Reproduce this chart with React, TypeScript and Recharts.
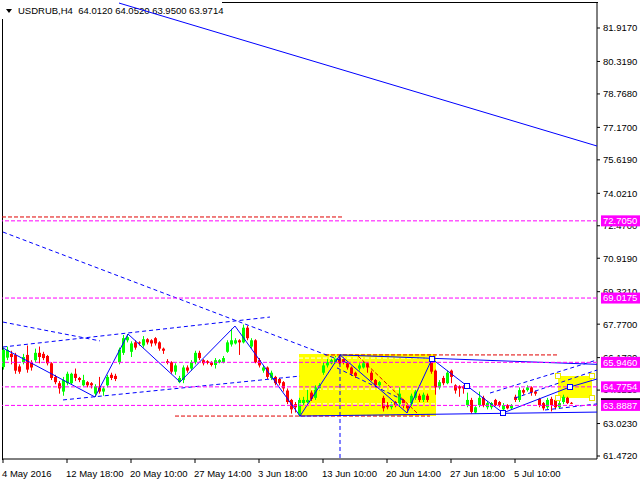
import React from 'react';
import { ComposedChart, Bar, XAxis, YAxis, ReferenceLine, ReferenceArea, ReferenceDot } from 'recharts';

const SYMBOL = 'USDRUB,H4';
const LAST_BAR = ['64.0120', '64.0520', '63.9500', '63.9714'];

const X_TICKS = [0, 16, 32, 48, 64, 80, 96, 112, 128];
const X_LABELS = ['4 May 2016', '12 May 18:00', '20 May 10:00', '27 May 14:00', '3 Jun 18:00', '13 Jun 10:00', '20 Jun 14:00', '27 Jun 18:00', '5 Jul 10:00'];
const Y_TICKS = [81.917, 80.319, 78.768, 77.17, 75.619, 74.021, 72.47, 70.919, 69.321, 67.77, 66.172, 64.621, 63.023, 61.472];
const X_DOMAIN: [number, number] = [-0.25, 148.5];
const Y_DOMAIN: [number, number] = [61.3287, 83.1597];

// [open, high, low, close] per H4 bar
const OHLC: number[][] = [
  [65.72, 66.65, 65.60, 66.54], [66.17, 66.70, 66.05, 66.54], [66.35, 66.50, 65.85, 66.20], [66.30, 66.40, 65.40, 65.55],
  [65.75, 65.85, 65.40, 65.50], [65.95, 66.35, 65.85, 66.20], [66.30, 66.75, 65.45, 65.60], [65.95, 66.05, 65.55, 65.70],
  [66.05, 66.60, 65.95, 66.40], [66.40, 66.70, 65.90, 66.20], [66.35, 66.45, 66.05, 66.15], [66.25, 66.30, 65.80, 65.90],
  [65.90, 65.95, 65.10, 65.20], [65.25, 65.35, 64.90, 65.00], [64.95, 65.05, 64.45, 64.70], [64.55, 65.25, 64.35, 65.10],
  [64.95, 65.50, 64.85, 65.40], [64.95, 65.45, 64.90, 65.40], [65.40, 65.65, 65.05, 65.20], [65.20, 65.25, 65.00, 65.10],
  [64.85, 65.35, 64.80, 65.10], [65.00, 65.05, 64.75, 64.85], [64.95, 65.00, 64.70, 64.85], [64.45, 64.90, 64.30, 64.80],
  [64.75, 65.25, 64.45, 64.55], [64.55, 64.80, 64.35, 64.70], [64.85, 65.35, 64.75, 65.25], [65.35, 65.45, 65.10, 65.20],
  [65.30, 65.40, 65.05, 65.15], [65.95, 66.65, 65.85, 66.55], [66.40, 67.25, 66.30, 67.10], [67.00, 67.30, 66.90, 67.15],
  [66.45, 66.95, 66.20, 66.85], [66.90, 67.00, 66.55, 66.65], [66.90, 66.95, 66.75, 66.85], [66.75, 67.20, 66.65, 67.05],
  [67.05, 67.10, 66.80, 66.90], [67.00, 67.05, 66.70, 66.85], [67.10, 67.15, 66.75, 66.85], [66.90, 66.95, 66.50, 66.60],
  [66.60, 66.65, 66.35, 66.50], [66.00, 66.10, 65.85, 65.92], [65.95, 66.00, 65.40, 65.50], [65.50, 65.90, 65.35, 65.80],
  [65.00, 65.30, 64.95, 65.20], [65.10, 65.80, 64.95, 65.70], [65.70, 65.80, 65.45, 65.55], [65.65, 66.05, 65.55, 65.95],
  [65.95, 66.50, 65.85, 66.40], [66.40, 66.50, 66.05, 66.15], [66.05, 66.10, 65.80, 65.90], [66.00, 66.05, 65.85, 65.92],
  [65.95, 66.00, 65.75, 65.82], [65.82, 66.15, 65.65, 66.05], [65.95, 66.10, 65.90, 66.05], [65.95, 66.25, 65.90, 66.15],
  [66.45, 67.00, 66.40, 66.90], [66.80, 67.55, 66.70, 67.00], [66.85, 67.10, 66.80, 67.00], [67.00, 67.05, 66.30, 66.90],
  [66.90, 67.75, 66.85, 67.60], [67.60, 67.70, 67.00, 67.10], [66.70, 67.10, 66.60, 67.00], [67.00, 67.05, 65.90, 65.95],
  [66.05, 66.15, 65.70, 65.80], [65.55, 65.80, 65.45, 65.70], [65.70, 65.75, 65.15, 65.25], [65.20, 65.55, 65.10, 65.45],
  [65.25, 65.30, 64.85, 64.95], [65.15, 65.20, 64.85, 64.95], [65.00, 65.05, 64.55, 64.70], [64.60, 64.70, 63.95, 64.05],
  [64.15, 64.20, 63.50, 63.70], [63.95, 64.05, 63.55, 63.80], [63.45, 64.25, 63.35, 64.15], [64.00, 64.30, 63.90, 64.15],
  [64.05, 64.65, 63.95, 64.15], [64.50, 64.60, 64.10, 64.20], [64.25, 64.85, 64.15, 64.75], [64.70, 64.95, 64.60, 64.85],
  [65.45, 65.95, 65.35, 65.80], [65.80, 66.10, 65.70, 65.95], [65.90, 66.15, 65.85, 66.05], [65.95, 66.25, 65.90, 66.15],
  [66.15, 66.30, 65.85, 65.90], [66.10, 66.20, 65.85, 65.95], [65.90, 65.95, 65.60, 65.70], [65.70, 65.75, 65.30, 65.40],
  [65.45, 65.50, 65.20, 65.30], [65.65, 65.90, 65.55, 65.80], [65.70, 66.00, 65.65, 65.90], [65.90, 65.95, 65.45, 65.70],
  [65.45, 65.55, 65.05, 65.10], [65.10, 65.15, 64.75, 64.85], [64.85, 65.05, 64.75, 65.00], [64.25, 64.35, 63.60, 63.75],
  [63.90, 64.05, 63.70, 63.80], [63.80, 64.05, 63.70, 63.95], [64.05, 64.10, 63.80, 63.90], [63.95, 64.75, 63.85, 64.45],
  [64.15, 64.20, 63.75, 63.90], [63.90, 63.95, 63.55, 63.75], [63.95, 64.45, 63.85, 64.35], [64.25, 64.65, 64.15, 64.55],
  [64.35, 64.45, 64.05, 64.15], [64.15, 64.50, 64.05, 64.40], [64.35, 64.45, 64.05, 64.15], [66.05, 66.25, 65.40, 65.50],
  [65.55, 65.60, 64.40, 64.75], [64.75, 65.10, 64.65, 65.00], [65.20, 65.30, 64.85, 64.95], [64.95, 65.55, 64.90, 65.45],
  [65.55, 65.60, 64.95, 65.25], [64.85, 64.90, 64.45, 64.60], [64.80, 64.85, 64.30, 64.70], [64.80, 64.85, 64.45, 64.70],
  [63.90, 64.50, 63.80, 64.15], [64.15, 64.25, 63.50, 63.58], [63.55, 63.85, 63.50, 63.80], [63.90, 64.55, 63.80, 64.25],
  [64.25, 64.35, 63.80, 63.90], [63.80, 64.10, 63.70, 64.00], [63.80, 64.05, 63.70, 64.00], [64.15, 64.20, 63.85, 63.90],
  [64.05, 64.10, 63.80, 63.90], [63.70, 64.00, 63.55, 63.90], [63.90, 63.95, 63.70, 63.75], [63.75, 63.95, 63.70, 63.90],
  [64.30, 64.40, 64.05, 64.15], [64.15, 64.75, 64.05, 64.62], [64.62, 64.70, 64.40, 64.50], [64.62, 64.85, 64.55, 64.75],
  [64.75, 64.80, 64.35, 64.50], [64.55, 64.60, 64.35, 64.45], [64.20, 64.25, 63.80, 63.90], [64.00, 64.05, 63.65, 63.75],
  [63.80, 64.25, 63.70, 64.15], [64.20, 64.30, 63.60, 63.90], [64.15, 64.20, 63.70, 63.80], [63.80, 64.10, 63.75, 64.00],
  [64.05, 64.40, 63.95, 64.30], [64.25, 64.30, 63.95, 64.00], [64.012, 64.052, 63.95, 63.9714],
];

// Zigzag pivots: [bar index, price]
const ZIGZAG: number[][] = [
  [0, 66.63], [23, 64.29], [31.25, 67.30], [44.25, 65.01], [58, 67.68], [74.25, 63.38], [84.25, 66.30],
  [101, 63.53], [107.25, 66.11], [116, 64.82], [125, 63.53], [141.75, 64.77], [148.5, 65.15],
];
const PIVOT_MARKS: number[][] = [[107.25, 66.11], [116, 64.82], [125, 63.53], [141.75, 64.77]];

// Straight trend lines: [x1, y1, x2, y2]
const SOLID_BLUE: number[][] = [
  [29, 83.11, 148.5, 76.28],
  [84.25, 66.30, 148.5, 65.85],
  [74.25, 63.38, 148.5, 63.57],
];
const DASHED_BLUE: number[][] = [
  [0, 72.17, 86.75, 65.87],
  [0, 67.87, 24.25, 66.97],
  [0, 66.68, 66.75, 68.11],
  [15, 64.15, 74.25, 65.29],
  [121.75, 64.48, 148.5, 66.06],
  [128, 64.24, 148.5, 65.58],
  [135.5, 63.67, 148.5, 63.96],
  [84.25, 66.25, 84.25, 61.3287],
  [83.5, 65.68, 100, 64.15],
];
const DASHED_RED: number[][] = [
  [-0.25, 72.89, 85, 72.89],
  [80.5, 66.30, 138.5, 66.30],
  [43, 63.38, 106.75, 63.38],
  [88.75, 66.25, 103.75, 63.48],
];
const DASHED_WHITE: number[][] = [
  [74, 66.15, 108.25, 66.15],
  [74, 64.67, 108.25, 64.67],
  [74, 63.96, 108.25, 63.96],
];

// Highlight rectangles: [x1, x2, y1, y2]
const BOXES: number[][] = [
  [74, 108.25, 63.38, 66.35],
  [138.75, 147.25, 64.24, 65.29],
];
const BOX_HANDLES: number[][] = [[138.75, 65.29], [147.25, 65.29], [138.75, 64.24], [147.25, 64.24]];

const LEVELS = [72.705, 69.0175, 65.946, 64.7754, 63.8887];
const LEVEL_TEXT = ['72.7050', '69.0175', '65.9460', '64.7754', '63.8887'];
const CURRENT_PRICE = 63.9714;

const FONT = '"Liberation Sans", Arial, sans-serif';

const data = OHLC.map((r, i) => ({ i, o: r[0], h: r[1], l: r[2], c: r[3] }));

const Candle = (props: any) => {
  const { x, y, width, height, payload } = props;
  if (!payload || height == null) return null;
  const { o, h, l, c } = payload;
  const top = height >= 0 ? y : y + height;
  const hh = Math.abs(height);
  const k = h - l > 0 ? hh / (h - l) : 0;
  const yo = top + (h - o) * k;
  const yc = top + (h - c) * k;
  const cx = Math.round(x + width / 2);
  const color = c >= o ? '#00ff00' : '#ff0000';
  const bt = Math.min(yo, yc);
  const bh = Math.max(1, Math.abs(yc - yo));
  return (
    <g>
      <line x1={cx + 0.5} x2={cx + 0.5} y1={top} y2={top + hh} stroke={color} strokeWidth={1} />
      <rect x={cx - 1} y={bt} width={3} height={bh} fill={color} />
    </g>
  );
};

const PriceTag = (props: any) => {
  const { viewBox, text, bg } = props;
  if (!viewBox) return null;
  const right = viewBox.x + viewBox.width;
  const cy = viewBox.y;
  return (
    <g>
      <rect x={right + 4} y={cy - 5.5} width={39} height={11} fill={bg} />
      <text x={right + 6} y={cy} dy="0.36em" fill="#ffffff" fontSize={9.5} fontFamily={FONT}>{text}</text>
    </g>
  );
};

const XTick = (props: any) => {
  const { x, y, payload } = props;
  const idx = X_TICKS.indexOf(payload.value);
  return (
    <text x={x - 1} y={y} dy="0.71em" fill="#000" fontSize={9.5} fontFamily={FONT} textAnchor="start">
      {idx >= 0 ? X_LABELS[idx] : ''}
    </text>
  );
};

const Square = (stroke: string) => (p: any) => (
  <rect x={Math.round(p.cx) - 2.5} y={Math.round(p.cy) - 2.5} width={5} height={5} fill="#ffffff" stroke={stroke} strokeWidth={1} />
);

const MARGIN = { top: 2, right: 0, bottom: 0, left: 2 };

export default function App() {
  return (
    <div style={{ position: 'absolute', left: 0, top: 0, width: 640, height: 480, background: '#fff', overflow: 'hidden' }}>
      <div style={{ position: 'absolute', left: 1.5, top: 1.5, width: 595, height: 457, borderLeft: '1px solid #000', borderTop: '1px solid #000' }} />
      <div style={{ position: 'absolute', left: 0, top: 0, width: 222, height: 19, background: '#fff' }} />
      <div style={{ position: 'absolute', left: 6, top: 9, width: 0, height: 0, borderLeft: '3.5px solid transparent', borderRight: '3.5px solid transparent', borderTop: '4px solid #000' }} />
      <div style={{ position: 'absolute', left: 18, top: 4, fontFamily: FONT, fontSize: 9.5, lineHeight: '13px', color: '#000', whiteSpace: 'pre' }}>
        {SYMBOL + '  ' + LAST_BAR.join(' ')}
      </div>
      {/* base layer: axes, filled objects and candles */}
      <div style={{ position: 'absolute', left: 0, top: 0 }}>
        <ComposedChart width={640} height={480} data={data} margin={MARGIN}>
          <XAxis
            dataKey="i"
            type="number"
            domain={X_DOMAIN}
            allowDataOverflow
            ticks={X_TICKS}
            interval={0}
            height={21}
            tickSize={4}
            tickMargin={7}
            tick={<XTick />}
            axisLine={{ stroke: '#000' }}
            tickLine={{ stroke: '#000' }}
          />
          <YAxis
            orientation="right"
            type="number"
            domain={Y_DOMAIN}
            allowDataOverflow
            ticks={Y_TICKS}
            interval={0}
            width={43}
            tickSize={3}
            tickMargin={3}
            tickFormatter={(v: number) => v.toFixed(4)}
            tick={{ fill: '#000', fontSize: 9.5, fontFamily: FONT }}
            axisLine={{ stroke: '#000' }}
            tickLine={{ stroke: '#000' }}
          />
          {BOXES.map((b, k) => (
            <ReferenceArea key={'box' + k} x1={b[0]} x2={b[1]} y1={b[2]} y2={b[3]} fill="#ffff00" fillOpacity={1} stroke="none" ifOverflow="visible" />
          ))}
          {DASHED_WHITE.map((s, k) => (
            <ReferenceLine key={'w' + k} segment={[{ x: s[0], y: s[1] }, { x: s[2], y: s[3] }]} stroke="#ffffff" strokeDasharray="4 2" ifOverflow="visible" />
          ))}
          <Bar dataKey={(d: any) => [d.l, d.h]} barSize={3} shape={<Candle />} isAnimationActive={false} />
        </ComposedChart>
      </div>
      {/* overlay layer: drawn objects and price tags */}
      <div style={{ position: 'absolute', left: 0, top: 0 }}>
        <ComposedChart width={640} height={480} data={data} margin={MARGIN}>
          <XAxis dataKey="i" type="number" domain={X_DOMAIN} allowDataOverflow height={21} tick={false} axisLine={false} tickLine={false} />
          <YAxis orientation="right" type="number" domain={Y_DOMAIN} allowDataOverflow width={43} tick={false} axisLine={false} tickLine={false} />
          {DASHED_RED.map((s, k) => (
            <ReferenceLine key={'r' + k} segment={[{ x: s[0], y: s[1] }, { x: s[2], y: s[3] }]} stroke="#e00000" strokeDasharray="4 2" ifOverflow="visible" />
          ))}
          {DASHED_BLUE.map((s, k) => (
            <ReferenceLine key={'db' + k} segment={[{ x: s[0], y: s[1] }, { x: s[2], y: s[3] }]} stroke="#0000ff" strokeDasharray="4 3" ifOverflow="visible" />
          ))}
          {SOLID_BLUE.map((s, k) => (
            <ReferenceLine key={'sb' + k} segment={[{ x: s[0], y: s[1] }, { x: s[2], y: s[3] }]} stroke="#0000ff" ifOverflow="visible" />
          ))}
          {ZIGZAG.slice(1).map((p, k) => (
            <ReferenceLine key={'zz' + k} segment={[{ x: ZIGZAG[k][0], y: ZIGZAG[k][1] }, { x: p[0], y: p[1] }]} stroke="#0000ff" ifOverflow="visible" />
          ))}
          <ReferenceLine y={CURRENT_PRICE} stroke="none" label={<PriceTag text={CURRENT_PRICE.toFixed(4)} bg="#000000" />} />
          {LEVELS.map((v, k) => (
            <ReferenceLine key={'lv' + k} y={v} stroke="#ff00ff" strokeDasharray="4 2" label={<PriceTag text={LEVEL_TEXT[k]} bg="#ff00ff" />} />
          ))}
          {PIVOT_MARKS.map((p, k) => (
            <ReferenceDot key={'pm' + k} x={p[0]} y={p[1]} r={3} shape={Square('#0000ff')} ifOverflow="visible" />
          ))}
          {BOX_HANDLES.map((p, k) => (
            <ReferenceDot key={'bh' + k} x={p[0]} y={p[1]} r={3} shape={Square('#e8e800')} ifOverflow="visible" />
          ))}
        </ComposedChart>
      </div>
    </div>
  );
}
